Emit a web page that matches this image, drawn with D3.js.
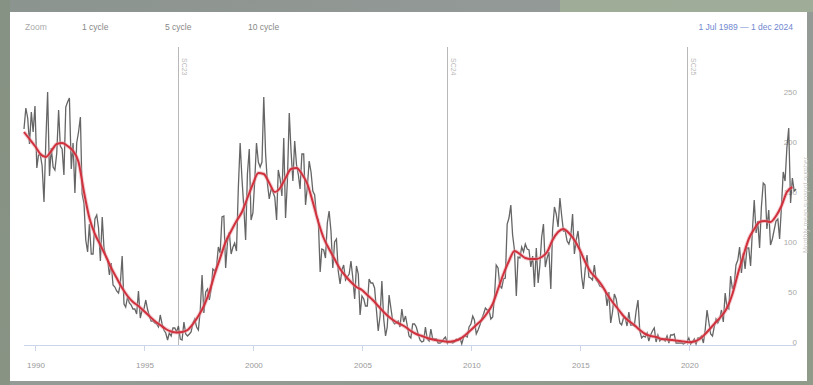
<!DOCTYPE html>
<html>
<head>
<meta charset="utf-8">
<script src="https://cdn.jsdelivr.net/npm/d3@7"></script>
<style>
  body { margin: 0; width: 813px; height: 385px; overflow: hidden; }
  svg { display: block; font-family: "Liberation Sans", Arial, sans-serif; }
</style>
</head>
<body>
<div class="d3-body"></div>
<script>
// monthly mean sunspot number, Jul 1989 .. Dec 2024
var monthly = [
  215, 236, 226, 200, 232, 212,                                  // 1989 (Jul-Dec)
  238, 176, 189, 189, 178, 142, 201, 252, 168, 196, 177, 174,    // 1990
  191, 234, 198, 195, 169, 237, 242, 246, 175, 201, 151, 201,    // 1991
  212, 227, 150, 141, 104, 92, 120, 90, 90, 125, 129, 116,       // 1992
  83, 127, 97, 87, 85, 69, 81, 59, 57, 53, 51, 60,               // 1993
  88, 40, 37, 47, 41, 39, 35, 35, 30, 53, 26, 34,                // 1994
  35, 44, 35, 28, 23, 23, 21, 20, 17, 29, 20, 14,                // 1995
  11, 4, 11, 8, 16, 16, 12, 18, 5, 4, 22, 10,                    // 1996
  8, 10, 12, 21, 25, 17, 14, 33, 69, 31, 52, 55,                 // 1997
  44, 55, 75, 73, 77, 97, 91, 127, 128, 76, 102, 112,            // 1998
  90, 97, 101, 93, 155, 201, 166, 137, 104, 170, 195, 124,       // 1999
  131, 164, 201, 182, 177, 182, 247, 190, 160, 145, 155, 152,    // 2000
  147, 124, 174, 165, 148, 206, 126, 163, 231, 193, 163, 203,    // 2001
  179, 169, 155, 190, 190, 139, 157, 183, 172, 153, 149, 128,    // 2002
  124, 72, 95, 94, 86, 121, 133, 113, 76, 102, 105, 73,          // 2003
  60, 74, 79, 64, 67, 70, 83, 66, 45, 78, 70, 29,                // 2004
  48, 45, 38, 38, 65, 61, 61, 56, 34, 13, 28, 63,                // 2005
  25, 8, 17, 49, 36, 23, 20, 21, 23, 17, 35, 22,                 // 2006
  28, 18, 8, 6, 20, 20, 17, 10, 4, 2, 3, 17,                     // 2007
  5, 3, 15, 5, 5, 5, 1, 1, 2, 5, 7, 1,                           // 2008
  2, 2, 1, 2, 5, 4, 6, 0, 7, 8, 7, 17,                           // 2009
  20, 28, 24, 10, 14, 19, 25, 30, 36, 34, 34, 25,                // 2010
  27, 48, 79, 76, 58, 56, 65, 66, 120, 126, 139, 109,            // 2011
  94, 48, 87, 86, 97, 92, 100, 95, 94, 77, 88, 57,               // 2012
  96, 61, 78, 107, 120, 77, 86, 92, 55, 114, 137, 130,           // 2013
  117, 146, 129, 113, 113, 103, 100, 107, 130, 90, 104, 113,     // 2014
  93, 67, 55, 75, 89, 67, 66, 64, 79, 64, 62, 58,                // 2015
  57, 56, 54, 38, 52, 21, 32, 50, 45, 33, 21, 19,                // 2016
  26, 26, 18, 32, 19, 19, 18, 33, 44, 13, 6, 8,                  // 2017
  7, 11, 3, 9, 13, 16, 2, 9, 3, 5, 5, 3,                         // 2018
  8, 1, 9, 9, 10, 1, 1, 1, 1, 0, 1, 2,                           // 2019
  6, 0, 2, 5, 0, 6, 6, 8, 1, 14, 34, 22,                         // 2020
  10, 8, 17, 25, 21, 25, 34, 22, 51, 37, 35, 68,                 // 2021
  55, 60, 79, 84, 97, 71, 91, 75, 96, 96, 78, 113,               // 2022
  144, 111, 123, 96, 137, 161, 159, 115, 134, 99, 105, 114,      // 2023
  123, 125, 105, 137, 172, 163, 196, 216, 141, 166, 153, 155     // 2024
];

// 13-month smoothed, one value per quarter from Jul 1989
var smoothed = [
  212, 205,
  198, 190, 187, 193,   200, 201, 198, 193,   182, 152, 126, 110,
  99, 88, 76, 66,       56, 48, 42, 38,       33, 28, 23, 19,
  15, 12.5, 11.5, 12,   14, 20, 28, 38,       52, 70, 86, 102,
  113, 123, 132, 146,   160, 171, 170, 161,   152, 156, 166, 175,
  176, 170, 160, 142,   122, 106, 95, 85,     75, 68, 62, 57,
  54, 49, 44, 38,       32, 27, 23, 20,       17, 13, 10, 8,
  6, 4.5, 3.5, 2.8,     2.2, 3, 5, 9,         14, 19, 24, 31,
  40, 55, 70, 83,       93, 90, 86, 85,       85, 87, 92, 104,
  112, 115, 111, 104,   94, 82, 72, 66,       59, 50, 42, 35,
  28, 23, 19, 14,       10, 8, 7, 5,          4.5, 4, 3.2, 2.5,
  1.8, 2.5, 5, 10,      16, 22, 28, 36,       50, 70, 88, 105,
  115, 122, 123, 122,   128, 138, 152, 157
];

var cycleStarts = ["1996-08", "2008-12", "2019-12"];
var cycleLabels = ["SC23", "SC24", "SC25"];
var zoomButtons = ["1 cycle", "5 cycle", "10 cycle"];
var yTicks = [0, 50, 100, 150, 200, 250];
var rangeText = "1 Jul 1989 \u2014 1 dec 2024";

var w = 813;
var h = 385;
var start = new Date(1989, 6, 1);
var end = new Date(2024, 11, 1);

var svg = d3.select(".d3-body").append("svg").attr("width", w).attr("height", h);

// blurred photo border + white panel
var grad = svg.append("defs").append("linearGradient").attr("id", "bg")
  .attr("x1", 0).attr("y1", 0).attr("x2", 1).attr("y2", 1);
grad.append("stop").attr("offset", "0%").attr("stop-color", "#8c948f");
grad.append("stop").attr("offset", "45%").attr("stop-color", "#959b99");
grad.append("stop").attr("offset", "100%").attr("stop-color", "#8f9a88");
svg.append("rect").attr("width", w).attr("height", h).attr("fill", "url(#bg)");
svg.append("rect").attr("x", 0).attr("y", 0).attr("width", 10).attr("height", h).attr("fill", "#84917f").attr("opacity", 0.8);
svg.append("rect").attr("x", 560).attr("y", 0).attr("width", 253).attr("height", 12).attr("fill", "#a4b398").attr("opacity", 0.7);
svg.append("rect").attr("x", 10).attr("y", 12).attr("width", 797).attr("height", 369).attr("fill", "#fff");

var x = d3.scaleTime().domain([start, end]).range([24, 796]);
var y = d3.scaleLinear().domain([0, 250]).range([344, 94]);

var monthDate = function(i, step) {
  return d3.timeMonth.offset(start, i * step);
};

// x axis
svg.append("line").attr("x1", 24).attr("x2", 796).attr("y1", 345.5).attr("y2", 345.5)
  .attr("stroke", "#ccd6eb").attr("stroke-width", 1);
var xTicks = x.ticks(d3.timeYear.every(5));
svg.selectAll(".xtick").data(xTicks).enter().append("line")
  .attr("class", "xtick")
  .attr("x1", function(d){ return Math.round(x(d)) + 0.5; })
  .attr("x2", function(d){ return Math.round(x(d)) + 0.5; })
  .attr("y1", 345).attr("y2", 351)
  .attr("stroke", "#ccd6eb");
svg.selectAll(".xlab").data(xTicks).enter().append("text")
  .attr("class", "xlab")
  .text(d3.timeFormat("%Y"))
  .attr("x", function(d){ return x(d) + 1; })
  .attr("y", 368)
  .attr("text-anchor", "middle")
  .attr("font-size", 8).attr("fill", "#999");

// y labels (right, inside)
svg.selectAll(".ylab").data(yTicks).enter().append("text")
  .attr("class", "ylab")
  .text(function(d){ return d; })
  .attr("x", 797)
  .attr("y", function(d){ return y(d) + 1; })
  .attr("text-anchor", "end")
  .attr("font-size", 8).attr("fill", "#aaa");

svg.append("text").text("Monthly mean sunspot number")
  .attr("transform", "translate(808,205) rotate(-90)")
  .attr("text-anchor", "middle")
  .attr("font-size", 7).attr("fill", "#ccc");

// cycle start markers
var parseMonth = d3.timeParse("%Y-%m");
svg.selectAll(".cyc").data(cycleStarts).enter().append("line")
  .attr("class", "cyc")
  .attr("x1", function(d){ return Math.round(x(parseMonth(d))) + 0.5; })
  .attr("x2", function(d){ return Math.round(x(parseMonth(d))) + 0.5; })
  .attr("y1", 47).attr("y2", 345)
  .attr("stroke", "#b8b8b8").attr("stroke-width", 1);
svg.selectAll(".cyclab").data(cycleStarts).enter().append("text")
  .attr("class", "cyclab")
  .text(function(d, i){ return cycleLabels[i]; })
  .attr("transform", function(d){ return "translate(" + (x(parseMonth(d)) + 4) + ",58) rotate(90)"; })
  .attr("font-size", 7).attr("fill", "#bbb");

// monthly series
var line = d3.line()
  .x(function(d, i){ return x(monthDate(i, 1)); })
  .y(function(d){ return y(d); });
svg.append("path").datum(monthly)
  .attr("d", line)
  .attr("fill", "none")
  .attr("stroke", "#4a4a4a")
  .attr("stroke-opacity", 0.85)
  .attr("stroke-width", 1.3);

// smoothed series
var sline = d3.line()
  .curve(d3.curveMonotoneX)
  .x(function(d, i){ return x(monthDate(i, 3)); })
  .y(function(d){ return y(d); });
svg.append("path").datum(smoothed)
  .attr("d", sline)
  .attr("fill", "none")
  .attr("stroke", "#e8a0a8")
  .attr("stroke-opacity", 0.5)
  .attr("stroke-width", 4);
svg.append("path").datum(smoothed)
  .attr("d", sline)
  .attr("fill", "none")
  .attr("stroke", "#d0313d")
  .attr("stroke-width", 2);

// zoom buttons + range
svg.append("text").text("Zoom").attr("x", 25).attr("y", 30)
  .attr("font-size", 8.5).attr("fill", "#aaa");
svg.selectAll(".zb").data(zoomButtons).enter().append("text")
  .attr("class", "zb")
  .text(function(d){ return d; })
  .attr("x", function(d, i){ return [82, 165, 248][i]; })
  .attr("y", 30)
  .attr("font-size", 8.5).attr("fill", "#888");
svg.append("text").text(rangeText)
  .attr("x", 793).attr("y", 30)
  .attr("text-anchor", "end")
  .attr("font-size", 8.5).attr("fill", "#7088d0");
</script>
</body>
</html>
